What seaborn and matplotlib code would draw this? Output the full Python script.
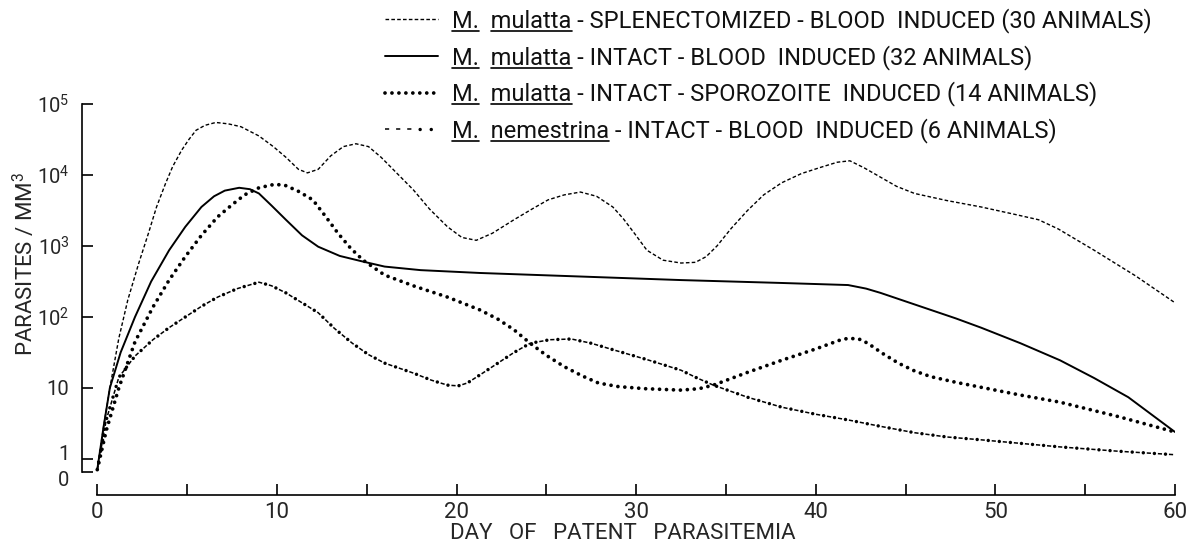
import numpy as np
import pandas as pd
import matplotlib
matplotlib.use("Agg")
import matplotlib.pyplot as plt
import seaborn as sns
from matplotlib.lines import Line2D
from matplotlib.legend_handler import HandlerTuple
from matplotlib.ticker import FixedLocator, NullLocator
from matplotlib.transforms import ScaledTranslation

# ------------- data: log10(parasites / mm3), by day -------------
splen_days = [0, 0.35, 0.7, 1.2, 1.7, 2.3, 2.85, 3.3, 3.8, 4.2, 4.7, 5.1, 5.5, 6.0, 6.6,
              7.3, 8.0, 9.0, 9.8, 10.5, 11.2, 11.7, 12.3, 13.0, 13.7, 14.4, 15.1, 15.8,
              16.7, 17.6, 18.5, 19.5, 20.3, 21.1, 22.0, 23.2, 24.2, 25.1, 26.0, 26.9,
              27.8, 28.7, 29.3, 29.9, 30.6, 31.5, 32.5, 33.3, 33.9, 34.5, 35.3, 36.2,
              37.1, 38.1, 39.2, 40.3, 41.2, 41.9, 42.7, 43.6, 44.5, 45.5, 47.3, 49.2,
              51.0, 52.4, 53.5, 55.5, 57.8, 60]
splen_log10 = [-0.15, 0.45, 1.0, 1.7, 2.24, 2.75, 3.18, 3.55, 3.88, 4.12, 4.35, 4.5, 4.63,
               4.70, 4.74, 4.72, 4.68, 4.55, 4.40, 4.25, 4.08, 4.03, 4.08, 4.27, 4.40,
               4.44, 4.40, 4.25, 4.02, 3.79, 3.52, 3.27, 3.12, 3.08, 3.18, 3.37, 3.52,
               3.65, 3.72, 3.76, 3.70, 3.55, 3.38, 3.18, 2.94, 2.80, 2.76, 2.77, 2.85,
               3.0, 3.25, 3.5, 3.72, 3.89, 4.02, 4.11, 4.18, 4.2, 4.1, 3.97, 3.84, 3.74,
               3.64, 3.55, 3.45, 3.37, 3.24, 2.94, 2.58, 2.2]

intact_days = [0, 0.35, 0.7, 1.3, 2.1, 3.0, 4.0, 4.9, 5.8, 6.5, 7.1, 7.9, 8.5, 9.0, 9.7,
               10.5, 11.4, 12.3, 13.5, 14.8, 16.0, 18.0, 21.3, 26.9, 32.5, 38.0, 41.8,
               42.8, 43.6, 45.0, 46.4, 47.8, 49.2, 51.4, 53.6, 55.5, 57.4, 60]
intact_log10 = [-0.15, 0.45, 1.0, 1.5, 2.0, 2.5, 2.94, 3.27, 3.55, 3.70, 3.78, 3.82, 3.80,
                3.74, 3.57, 3.37, 3.15, 2.99, 2.86, 2.78, 2.71, 2.66, 2.62, 2.57, 2.52,
                2.48, 2.45, 2.40, 2.34, 2.22, 2.1, 1.98, 1.85, 1.63, 1.39, 1.14, 0.87,
                0.38]

sporo_days = [0, 0.5, 1.2, 2.1, 3.1, 4.0, 4.9, 5.8, 6.7, 7.5, 8.2, 9.0, 9.9, 10.5, 11.2,
              12.0, 12.7, 13.4, 14.1, 14.8, 16.0, 17.7, 19.5, 21.3, 22.3, 23.2, 24.1,
              25.0, 26.0, 27.0, 27.9, 29.0, 30.5, 32.5, 33.5, 34.3, 36.2, 38.1, 40.0,
              41.3, 41.8, 42.4, 42.9, 43.7, 44.6, 45.5, 46.4, 47.8, 49.2, 51.4, 53.6,
              56.8, 60]
sporo_log10 = [-0.15, 0.4, 1.0, 1.65, 2.14, 2.52, 2.85, 3.15, 3.41, 3.58, 3.72, 3.82,
               3.87, 3.85, 3.77, 3.65, 3.42, 3.18, 2.97, 2.80, 2.59, 2.43, 2.28, 2.1,
               1.97, 1.82, 1.63, 1.46, 1.3, 1.17, 1.07, 1.02, 0.99, 0.97, 0.99, 1.04,
               1.22, 1.39, 1.55, 1.67, 1.7, 1.69, 1.63, 1.49, 1.35, 1.24, 1.16, 1.08,
               1.01, 0.9, 0.8, 0.6, 0.38]

nem_days = [0, 0.5, 1.2, 2.1, 3.1, 4.0, 4.9, 5.8, 6.7, 7.8, 9.0, 9.7, 10.5, 11.4, 12.3,
            13.2, 14.2, 15.1, 16.0, 17.6, 18.6, 19.5, 20.1, 20.6, 21.4, 22.3, 23.2, 24.1,
            25.2, 26.4, 27.5, 28.7, 30.6, 32.5, 33.4, 34.3, 36.2, 38.1, 40.0, 41.8, 43.6,
            45.5, 47.3, 49.2, 51.4, 53.6, 56.8, 60]
nem_log10 = [-0.15, 0.55, 1.15, 1.45, 1.68, 1.85, 2.0, 2.15, 2.28, 2.40, 2.49, 2.44, 2.34,
             2.2, 2.06, 1.84, 1.63, 1.47, 1.35, 1.21, 1.11, 1.04, 1.03, 1.07, 1.2, 1.35,
             1.5, 1.63, 1.68, 1.69, 1.63, 1.54, 1.4, 1.25, 1.14, 1.04, 0.87, 0.73, 0.63,
             0.55, 0.46, 0.37, 0.31, 0.27, 0.22, 0.17, 0.11, 0.06]

species = ["mulatta", "mulatta", "mulatta", "nemestrina"]
descriptions = ["SPLENECTOMIZED - BLOOD  INDUCED (30 ANIMALS)",
                "INTACT - BLOOD  INDUCED (32 ANIMALS)",
                "INTACT - SPOROZOITE  INDUCED (14 ANIMALS)",
                "INTACT - BLOOD  INDUCED (6 ANIMALS)"]

x_major = [0, 10, 20, 30, 40, 50, 60]
x_minor = [5, 15, 25, 35, 45, 55]
y_ticks = [0.66, 1, 10, 100, 1000, 10000, 100000]
y_ticklabels = ["0", "1", "10", "10$^2$", "10$^3$", "10$^4$", "10$^5$"]

# ---------------- style -------------
sns.set_style("ticks")
plt.rcParams["font.family"] = ["Roboto", "DejaVu Sans"]
plt.rcParams["mathtext.default"] = "regular"
plt.rcParams["lines.scale_dashes"] = False
plt.rcParams["text.color"] = "#111111"

W, H = 1193, 546
fig = plt.figure(figsize=(W / 100, H / 100), dpi=100)
ax = fig.add_axes([82 / W, 1 - 495 / H, 1093 / W, 391 / H])


def draw(days, logs, lw):
    df = pd.DataFrame({"day": days, "parasites": 10.0 ** np.asarray(logs)})
    sns.lineplot(data=df, x="day", y="parasites", ax=ax, color="black", lw=lw,
                 estimator=None, sort=False)
    return ax.lines[-1]


l_splen = draw(splen_days, splen_log10, 1.0)
l_splen.set_linestyle((0, (2.6, 1.6)))
l_splen.set_dash_capstyle("butt")

l_intact = draw(intact_days, intact_log10, 1.4)

l_sporo = draw(sporo_days, sporo_log10, 2.7)
l_sporo.set_linestyle((0, (0.01, 5.0)))
l_sporo.set_dash_capstyle("round")

l_nem_dash = draw(nem_days, nem_log10, 1.1)
l_nem_dash.set_linestyle((0, (3.0, 5.0)))
l_nem_dash.set_dash_capstyle("butt")
l_nem_dot = draw(nem_days, nem_log10, 2.5)
l_nem_dot.set_linestyle((2.5, (0.01, 7.99)))
l_nem_dot.set_dash_capstyle("round")

ax.set_yscale("log")
ax.set_xlim(-0.85, 60.0)
ax.set_ylim(0.311, 1e5)

for side in ["top", "right"]:
    ax.spines[side].set_visible(False)
ax.spines["left"].set_bounds(0.66, 1e5)
ax.spines["bottom"].set_bounds(0, 60)
for side in ["left", "bottom"]:
    ax.spines[side].set_linewidth(1.2)
    ax.spines[side].set_color("black")

ax.xaxis.set_major_locator(FixedLocator(x_major))
ax.xaxis.set_minor_locator(FixedLocator(x_minor))
ax.set_xticklabels([str(v) for v in x_major])
ax.yaxis.set_major_locator(FixedLocator(y_ticks))
ax.yaxis.set_minor_locator(NullLocator())
ax.set_yticklabels(y_ticklabels)

ax.tick_params(axis="both", which="both", direction="in", length=8, width=1.2,
               color="black")
ax.tick_params(axis="x", pad=5, labelsize=16)
ax.tick_params(axis="y", pad=9, labelsize=14.5)

ax.set_xlabel("DAY   OF   PATENT   PARASITEMIA", fontsize=16)
ax.xaxis.set_label_coords(0.495, -0.072)
ax.set_ylabel("PARASITES / MM$^3$", fontsize=16)
ax.yaxis.set_label_coords(-0.040, 0.59)

# nudge the "0" and "1" labels apart as in the original lettering
ylabs = ax.yaxis.get_majorticklabels()
ylabs[0].set_transform(ylabs[0].get_transform() + ScaledTranslation(0, -5 / 72, fig.dpi_scale_trans))
ylabs[1].set_transform(ylabs[1].get_transform() + ScaledTranslation(0, 4.5 / 72, fig.dpi_scale_trans))

# legend
labels = [f"M.  {sp} - {d}" for sp, d in zip(species, descriptions)]
handles = [l_splen, l_intact, l_sporo, (l_nem_dash, l_nem_dot)]
leg = ax.legend(handles, labels, handler_map={tuple: HandlerTuple(ndivide=None)},
                loc="upper left", bbox_to_anchor=(385 / W, 1 - 8 / H),
                bbox_transform=fig.transFigure, frameon=False, fontsize=17,
                handlelength=2.25, handletextpad=0.6, labelspacing=0.5,
                borderaxespad=0, borderpad=0)

# underline the genus / species names
fig.canvas.draw()
renderer = fig.canvas.get_renderer()
for t, sp in zip(leg.get_texts(), species):
    prop = t.get_fontproperties()
    bb = t.get_window_extent(renderer)
    d_lp = renderer.get_text_width_height_descent("lp", prop, ismath=False)[2]
    base = bb.y0 + d_lp
    wid = lambda s: renderer.get_text_width_height_descent(s, prop, ismath=False)[0]
    yline = base - 3
    segs = [(0, wid("M.")),
            (wid("M.  m") - wid("m"), wid("M.  " + sp))]
    for a, b in segs:
        fig.add_artist(Line2D([(bb.x0 + a) / W, (bb.x0 + b) / W], [yline / H, yline / H],
                              transform=fig.transFigure, color="black", lw=1.2))

fig.savefig("out.png", dpi=100, facecolor="white")
